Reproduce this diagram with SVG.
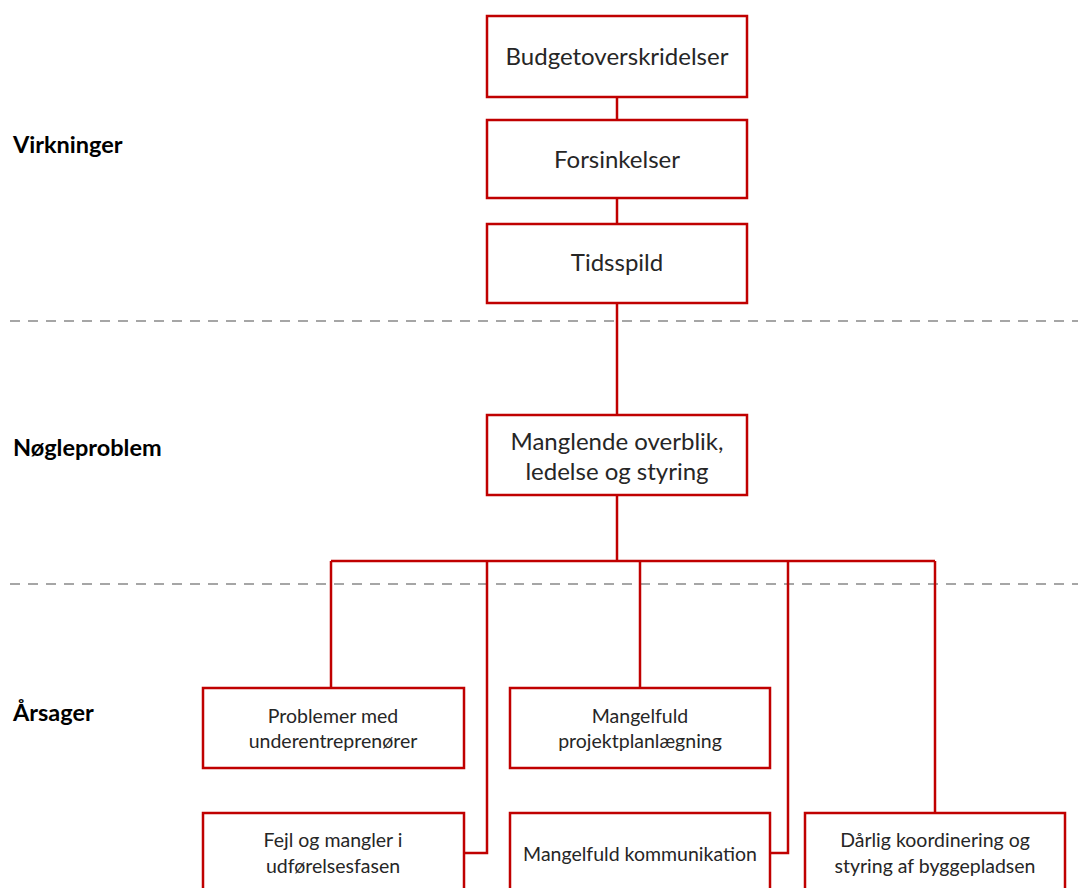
<svg xmlns="http://www.w3.org/2000/svg" width="1078" height="888" viewBox="0 0 1078 888">
  <style>
    .box { fill: #ffffff; stroke: #C00000; stroke-width: 2.5; }
    .wire { fill: none; stroke: #C00000; stroke-width: 2.5; }
    .divider { stroke: #A6A6A6; stroke-width: 2; stroke-dasharray: 10 8; }
    .big { font-family: Lato, "Open Sans", sans-serif; font-size: 24px; fill: #262626; text-anchor: middle; }
    .small { font-family: Lato, "Open Sans", sans-serif; font-size: 19.5px; fill: #262626; text-anchor: middle; }
    .label { font-family: Lato, "Open Sans", sans-serif; font-size: 23.5px; font-weight: bold; fill: #000000; }
  </style>
  <rect width="1078" height="888" fill="#ffffff"/>

  <!-- section dividers -->
  <line class="divider" x1="10" y1="321" x2="1078" y2="321"/>
  <line class="divider" x1="10" y1="584" x2="1078" y2="584"/>

  <!-- section labels -->
  <text class="label" x="13" y="153">Virkninger</text>
  <text class="label" x="13" y="456">Nøgleproblem</text>
  <text class="label" x="13" y="721">Årsager</text>

  <!-- connectors -->
  <g id="connectors">
    <line class="wire" x1="617" y1="97" x2="617" y2="120"/>
    <line class="wire" x1="617" y1="198" x2="617" y2="224"/>
    <line class="wire" x1="617" y1="303" x2="617" y2="415"/>
    <line class="wire" x1="617" y1="495" x2="617" y2="561"/>
    <line class="wire" x1="331" y1="561" x2="935" y2="561"/>
    <line class="wire" x1="331" y1="561" x2="331" y2="688"/>
    <polyline class="wire" points="487,561 487,853 464,853"/>
    <line class="wire" x1="640" y1="561" x2="640" y2="688"/>
    <polyline class="wire" points="788,561 788,853 770,853"/>
    <line class="wire" x1="935" y1="561" x2="935" y2="813"/>
  </g>

  <!-- effects -->
  <g id="node-budget">
    <rect class="box" x="487" y="16" width="260" height="81"/>
    <text class="big" x="617" y="65">Budgetoverskridelser</text>
  </g>
  <g id="node-forsinkelser">
    <rect class="box" x="487" y="120" width="260" height="78"/>
    <text class="big" x="617" y="168">Forsinkelser</text>
  </g>
  <g id="node-tidsspild">
    <rect class="box" x="487" y="224" width="260" height="79"/>
    <text class="big" x="617" y="271">Tidsspild</text>
  </g>

  <!-- key problem -->
  <g id="node-noegleproblem">
    <rect class="box" x="487" y="415" width="260" height="80"/>
    <text class="big" x="617" y="450">Manglende overblik,</text>
    <text class="big" x="617" y="480">ledelse og styring</text>
  </g>

  <!-- causes -->
  <g id="node-underentreprenoerer">
    <rect class="box" x="203" y="688" width="261" height="80"/>
    <text class="small" x="333" y="723">Problemer med</text>
    <text class="small" x="333" y="748">underentreprenører</text>
  </g>
  <g id="node-projektplanlaegning">
    <rect class="box" x="510" y="688" width="260" height="80"/>
    <text class="small" x="640" y="723">Mangelfuld</text>
    <text class="small" x="640" y="748">projektplanlægning</text>
  </g>
  <g id="node-udfoerelsesfasen">
    <rect class="box" x="203" y="813" width="261" height="82"/>
    <text class="small" x="333" y="847">Fejl og mangler i</text>
    <text class="small" x="333" y="873">udførelsesfasen</text>
  </g>
  <g id="node-kommunikation">
    <rect class="box" x="510" y="813" width="260" height="82"/>
    <text class="small" x="640" y="861">Mangelfuld kommunikation</text>
  </g>
  <g id="node-byggepladsen">
    <rect class="box" x="805" y="813" width="260" height="82"/>
    <text class="small" x="935" y="847">Dårlig koordinering og</text>
    <text class="small" x="935" y="873">styring af byggepladsen</text>
  </g>
</svg>
